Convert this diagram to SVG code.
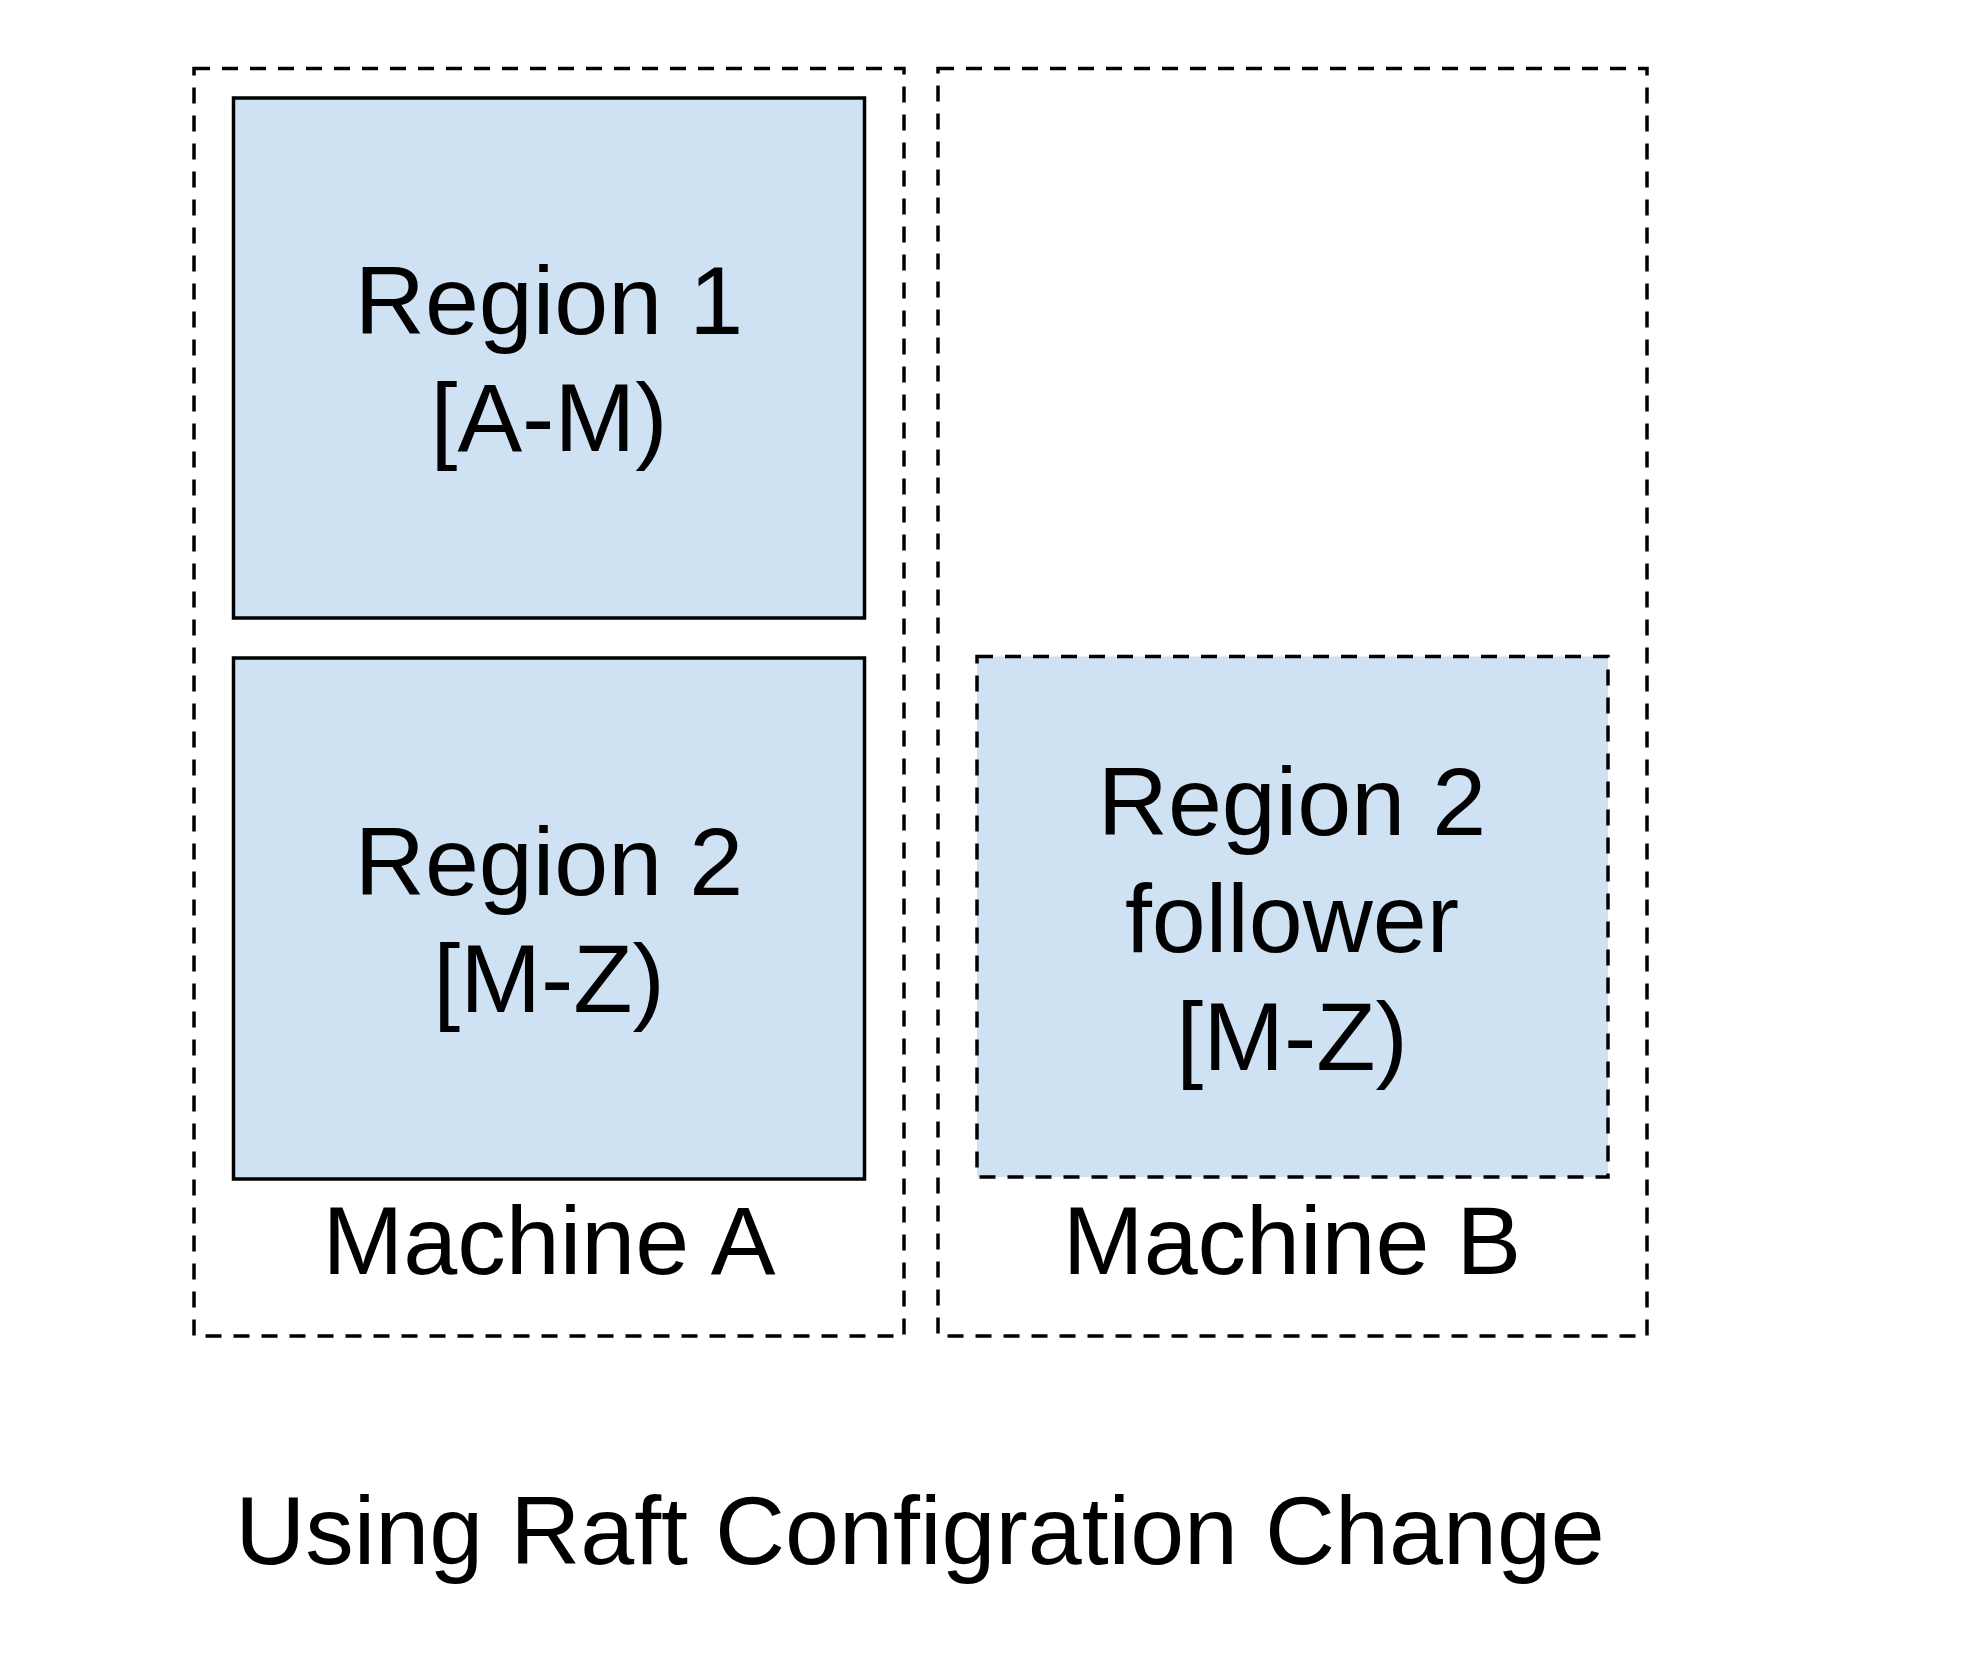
<svg xmlns="http://www.w3.org/2000/svg" width="1988" height="1668" viewBox="0 0 1988 1668">
<style>
.machine{fill:none;stroke:#000;stroke-width:3.5;stroke-dasharray:16 12}
.region{fill:#cfe2f3;stroke:#000;stroke-width:3.5}
.follower{fill:#cfe2f3;stroke:#000;stroke-width:3.5;stroke-dasharray:16 12}
text{font-family:"Liberation Sans",Arial,sans-serif;font-size:97px;fill:#000;text-anchor:middle}
</style>
<rect width="1988" height="1668" fill="#fff"/>
<g id="machine-a">
<rect class="machine" x="194" y="68.5" width="710" height="1267.5"/>
<text x="549" y="1274">Machine A</text>
</g>
<g id="machine-b">
<rect class="machine" x="938" y="68.5" width="709" height="1267.5"/>
<text x="1292" y="1274">Machine B</text>
</g>
<g id="region1">
<rect class="region" x="233.5" y="98" width="631" height="520"/>
<text x="549" y="334">Region 1</text>
<text x="549" y="451">[A-M)</text>
</g>
<g id="region2">
<rect class="region" x="233.5" y="658" width="631" height="521"/>
<text x="549" y="895">Region 2</text>
<text x="549" y="1012">[M-Z)</text>
</g>
<g id="region2-follower">
<rect class="follower" x="977" y="656.5" width="631" height="520.5"/>
<text x="1292" y="835">Region 2</text>
<text x="1292" y="952">follower</text>
<text x="1292" y="1070">[M-Z)</text>
</g>
<g id="connectors"></g>
<g id="title">
<text x="920" y="1564">Using Raft Configration Change</text>
</g>
</svg>
